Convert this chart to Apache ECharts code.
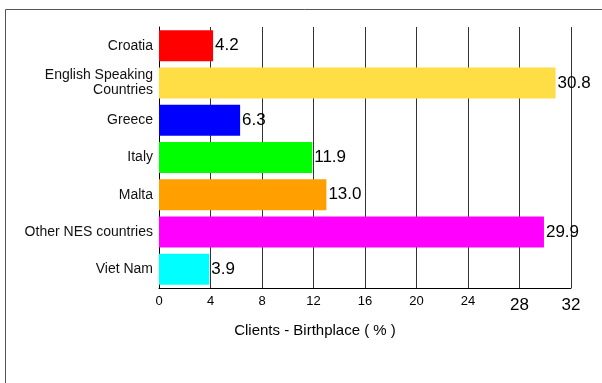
<!DOCTYPE html>
<html>
<head>
<meta charset="utf-8">
<script src="https://cdn.jsdelivr.net/npm/echarts@6/dist/echarts.min.js"></script>
<style>html,body{margin:0;padding:0;background:#fff}#c{width:602px;height:383px}</style>
</head>
<body>
<div id="c"></div>
<script>
const categories = ['Croatia', 'English Speaking\nCountries', 'Greece', 'Italy', 'Malta', 'Other NES countries', 'Viet Nam'];
const values = [4.2, 30.8, 6.3, 11.9, 13.0, 29.9, 3.9];
const barColors = ['#FF0000', '#FFDD44', '#0000FF', '#00FF00', '#FF9F00', '#FF00FF', '#00FFFF'];
const axisMin = 0, axisMax = 32, axisStep = 4;
const axisTitle = 'Clients - Birthplace ( % )';

const chart = echarts.init(document.getElementById('c'), null, {renderer: 'canvas'});
chart.setOption({
  animation: false,
  backgroundColor: '#fff',
  textStyle: {fontFamily: 'Liberation Sans, Arial, sans-serif'},
  graphic: [{
    type: 'rect', shape: {x: 5.5, y: 9.5, width: 700, height: 500},
    style: {fill: 'none', stroke: '#555', lineWidth: 1}, silent: true
  }],
  grid: {left: 159, right: 31, top: 27, bottom: 95},
  xAxis: {
    type: 'value', min: axisMin, max: axisMax, interval: axisStep,
    axisLine: {show: true, lineStyle: {color: '#000', width: 1}},
    axisTick: {show: false},
    splitLine: {show: true, lineStyle: {color: '#333', width: 1}},
    axisLabel: {
      color: '#000', fontSize: 13, margin: 7,
      formatter: v => v >= 28 ? '{b|' + v + '}' : String(v),
      rich: {b: {fontSize: 17, color: '#000', padding: [2, 0, 0, 0]}}
    },
    name: axisTitle, nameLocation: 'middle', nameGap: 35,
    nameTextStyle: {color: '#000', fontSize: 15, padding: [0, 100, 0, 0]}
  },
  yAxis: {
    type: 'category', data: categories, inverse: true,
    axisLine: {show: true, lineStyle: {color: '#000', width: 1}},
    axisTick: {show: false},
    axisLabel: {color: '#111', fontSize: 14, margin: 6, lineHeight: 15, align: 'right'}
  },
  series: [{
    type: 'bar', barWidth: 31,
    data: values.map((v, i) => ({value: v, itemStyle: {color: barColors[i]}})),
    label: {show: true, position: 'right', distance: 2, color: '#000', fontSize: 17,
      formatter: p => p.value.toFixed(1)}
  }]
});
</script>
</body>
</html>
